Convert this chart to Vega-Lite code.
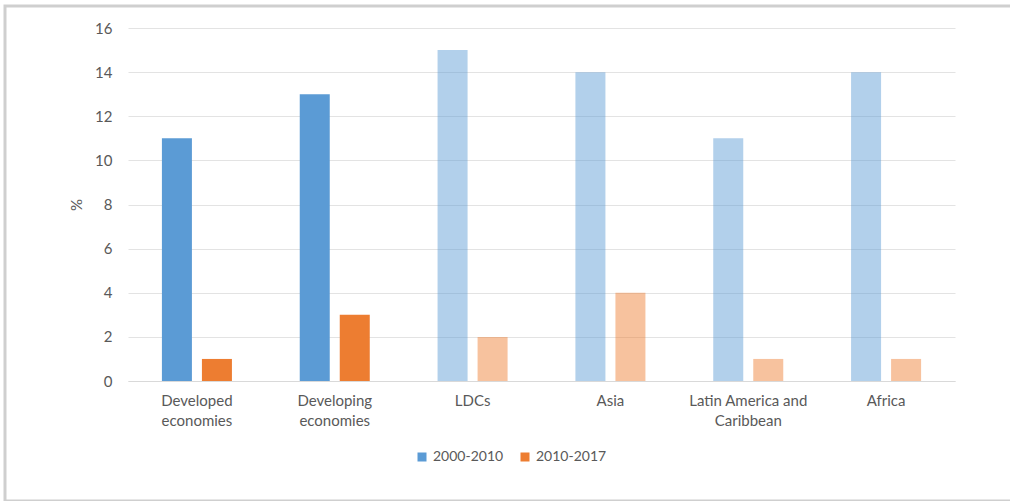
{
  "$schema": "https://vega.github.io/schema/vega-lite/v6.json",
  "width": 1010,
  "height": 495,
  "autosize": {"type": "none"},
  "padding": {"left": 5, "top": 6, "right": 0, "bottom": 0},
  "background": "white",
  "config": {
    "view": {"stroke": "#cfcfcf", "strokeWidth": 3},
    "font": "Lato",
    "axis": {
      "labelFont": "Lato",
      "labelFontSize": 15,
      "labelColor": "#595959",
      "titleFont": "Lato",
      "titleFontSize": 15,
      "titleColor": "#595959",
      "titleFontWeight": "normal"
    }
  },
  "data": {
    "values": [
      {"region": "Developed economies", "period": "2000-2010", "value": 11, "group": "Economy"},
      {"region": "Developed economies", "period": "2010-2017", "value": 1, "group": "Economy"},
      {"region": "Developing economies", "period": "2000-2010", "value": 13, "group": "Economy"},
      {"region": "Developing economies", "period": "2010-2017", "value": 3, "group": "Economy"},
      {"region": "LDCs", "period": "2000-2010", "value": 15, "group": "Region"},
      {"region": "LDCs", "period": "2010-2017", "value": 2, "group": "Region"},
      {"region": "Asia", "period": "2000-2010", "value": 14, "group": "Region"},
      {"region": "Asia", "period": "2010-2017", "value": 4, "group": "Region"},
      {"region": "Latin America and Caribbean", "period": "2000-2010", "value": 11, "group": "Region"},
      {"region": "Latin America and Caribbean", "period": "2010-2017", "value": 1, "group": "Region"},
      {"region": "Africa", "period": "2000-2010", "value": 14, "group": "Region"},
      {"region": "Africa", "period": "2010-2017", "value": 1, "group": "Region"}
    ]
  },
  "mark": {"type": "bar"},
  "encoding": {
    "x": {
      "field": "region",
      "type": "nominal",
      "sort": ["Developed economies", "Developing economies", "LDCs", "Asia", "Latin America and Caribbean", "Africa"],
      "scale": {"range": [123, 950], "paddingInner": 0.492, "paddingOuter": 0.246},
      "axis": {
        "title": null,
        "labelAngle": 0,
        "offset": -120,
        "domainColor": "#d9d9d9",
        "ticks": false,
        "labelPadding": 12,
        "labelLineHeight": 20,
        "labelBaseline": "top",
        "labelExpr": "datum.label == 'Developed economies' ? ['Developed', 'economies'] : datum.label == 'Developing economies' ? ['Developing', 'economies'] : datum.label == 'Latin America and Caribbean' ? ['Latin America and', 'Caribbean'] : datum.label"
      }
    },
    "xOffset": {
      "field": "period",
      "type": "nominal",
      "scale": {"paddingInner": 0.25, "paddingOuter": 0}
    },
    "y": {
      "field": "value",
      "type": "quantitative",
      "scale": {"domain": [0, 16], "nice": false, "range": [375, 22]},
      "axis": {
        "title": "%",
        "values": [0, 2, 4, 6, 8, 10, 12, 14, 16],
        "offset": -115,
        "domain": false,
        "ticks": false,
        "labelPadding": 8,
        "gridColor": "#e3e3e3",
        "titlePadding": 10
      }
    },
    "color": {
      "field": "period",
      "type": "nominal",
      "scale": {"domain": ["2000-2010", "2010-2017"], "range": ["#5B9BD5", "#ED7D31"]},
      "legend": {
        "orient": "none",
        "legendX": 410,
        "legendY": 444,
        "direction": "horizontal",
        "title": null,
        "symbolType": "square",
        "symbolSize": 81,
        "symbolStrokeWidth": 0,
        "labelFont": "Lato",
        "labelFontSize": 14,
        "labelColor": "#595959",
        "columnPadding": 14,
        "labelOffset": 4
      }
    },
    "opacity": {
      "field": "group",
      "type": "nominal",
      "scale": {"domain": ["Economy", "Region"], "range": [1, 0.47]},
      "legend": null
    }
  }
}
